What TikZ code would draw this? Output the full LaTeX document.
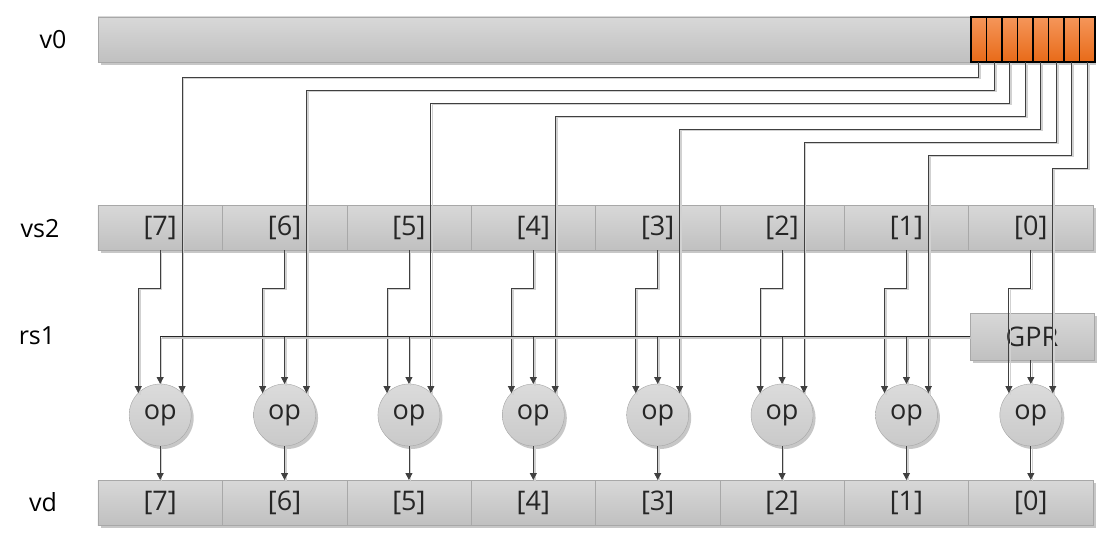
\documentclass[tikz,border=0pt]{standalone}
\usepackage{fontspec}
\setmainfont{Open Sans}
\usetikzlibrary{arrows.meta,shadows}
\definecolor{boxtop}{HTML}{D8D8D8}
\definecolor{boxbot}{HTML}{C0C0C0}
\definecolor{boxline}{HTML}{A8A8A8}
\definecolor{lanetop}{HTML}{F5965A}
\definecolor{lanebot}{HTML}{E86A18}
\tikzset{barshadow/.style={drop shadow={shadow xshift=2.5pt, shadow yshift=-3pt, fill=black, opacity=0.22}},
bar/.style={draw=boxline, top color=boxtop, bottom color=boxbot, barshadow},
elem/.style={draw=boxline, top color=boxtop, bottom color=boxbot, minimum width=124.375pt, minimum height=45pt, inner sep=0pt, outer sep=0pt, text=black!85, font=\fontsize{27}{32}\selectfont},
lane/.style={draw=black, line width=1.2pt, top color=lanetop, bottom color=lanebot, minimum width=15.5pt, minimum height=45pt, inner sep=0pt, outer sep=0pt},
opnode/.style={circle, draw=gray!70, top color=gray!28, bottom color=gray!42, minimum size=62pt, inner sep=0pt, outer sep=0pt, barshadow, text=black!85, font=\fontsize{27}{30}\selectfont},
rowlabel/.style={font=\fontsize{25}{30}\selectfont},
wire/.style={draw=black!75, line width=0.8pt, -{Triangle[length=7pt,width=7pt]},
  preaction={draw=black!18, line width=1.6pt, -, transform canvas={shift={(1.5pt,-1.5pt)}}}},
bus/.style={draw=black!85, line width=1.5pt,
  preaction={draw=black!22, line width=2pt, transform canvas={shift={(1.5pt,-1.5pt)}}}}}
\begin{document}
\begin{tikzpicture}[x=1pt,y=-1pt]
    \useasboundingbox (0,0) rectangle (1105,543);

    \node[rowlabel] (lv0) at (53,40) {v0};
    \node[rowlabel] (lvs2) at (40,229) {vs2};
    \node[rowlabel] (lrs1) at (37,336) {rs1};
    \node[rowlabel] (lvd) at (43,502) {vd};

    \path[bar] (98,17) rectangle (1093,62);
    \path[bar] (98,205) rectangle (1093,250);
    \path[bar] (98,480) rectangle (1093,525);

    \foreach \k in {0,...,7}
    \node[lane] (l\k) at ({978.75+15.5*(7-\k)},39.5) {};

    \foreach \k in {0,...,7} {
    \node[elem] (s\k) at ({1030.8-124.375*\k},227.5) {[\k]};
    \node[opnode] (op\k) at ({1030.8-124.375*\k},415) {op};
    \node[elem] (d\k) at ({1030.8-124.375*\k},502.5) {[\k]};
    }

    \node[elem, barshadow, minimum width=124pt, minimum height=47pt] (gpr) at (1032,336.5) {GPR};

    \foreach \k in {0,...,7} {
    \draw[wire] (l\k.south) -- ++(0,{15+13*(7-\k)}) -| (op\k.45);
    \draw[wire] (s\k.south) -- ++(0,38) -| (op\k.135);
    \draw[wire] (op\k.south) -- (d\k.north);
    }

    \draw[bus] (gpr.west) -- (op7.north |- gpr.west);
    \foreach \k in {1,...,7}
    \draw[wire] (op\k.north |- gpr.west) -- (op\k.north);
    \draw[wire] (op0.north |- gpr.south) -- (op0.north);

  \end{tikzpicture}
\end{document}
